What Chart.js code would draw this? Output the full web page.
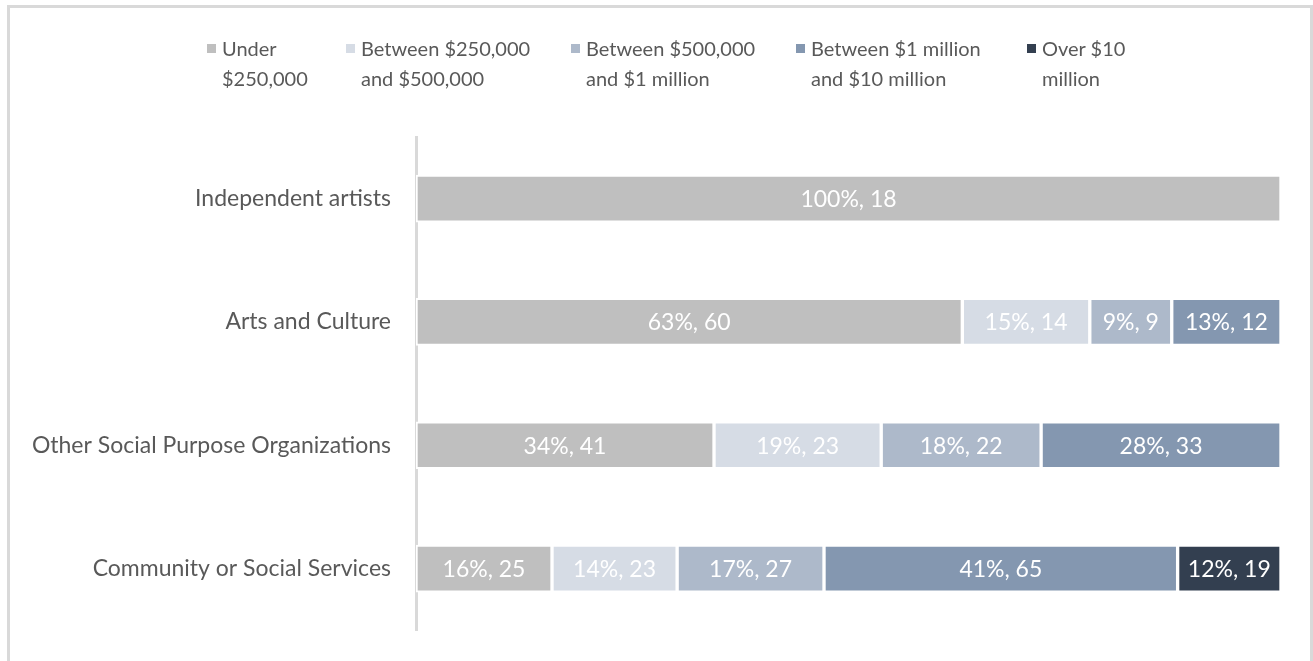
<!DOCTYPE html>
<html>
<head>
<meta charset="utf-8">
<script src="https://cdn.jsdelivr.net/npm/chart.js@4.4.1/dist/chart.umd.min.js"></script>
<style>
  html, body { margin: 0; padding: 0; background: #fff; }
  body { width: 1313px; height: 661px; position: relative; overflow: hidden; font-family: Lato, sans-serif; }
  .frame {
    position: absolute; left: 7px; top: 5px; width: 1306px; height: 700px;
    border: 3px solid #d9d9d9; box-sizing: border-box;
  }
  #revenueChart { position: absolute; left: 0; top: 0; }
  .legend { position: absolute; top: 33px; left: 0; width: 1313px; height: 70px; }
  .legend .item { position: absolute; top: 0; color: #595959; font-size: 20px; line-height: 30px; }
  .legend .box { position: absolute; width: 9px; height: 9px; top: 11px; }
  .legend .txt { position: absolute; white-space: nowrap; }
</style>
</head>
<body>
<div class="frame"></div>
<canvas id="revenueChart" width="1313" height="661"></canvas>
<div class="legend" id="legend"></div>
<script>
const categories = ['Independent artists', 'Arts and Culture', 'Other Social Purpose Organizations', 'Community or Social Services'];

// number of respondents per revenue band, one value per category
const under250k      = [18, 60, 41, 25];
const from250kTo500k = [0, 14, 23, 23];
const from500kTo1m   = [0, 9, 22, 27];
const from1mTo10m    = [0, 12, 33, 65];
const over10m        = [0, 0, 0, 19];

const bandNames = [
  ['Under', '$250,000'],
  ['Between $250,000', 'and $500,000'],
  ['Between $500,000', 'and $1 million'],
  ['Between $1 million', 'and $10 million'],
  ['Over $10', 'million']
];
const bandColors = ['#bfbfbf', '#d6dce5', '#adb9ca', '#8497b0', '#333f50'];
const bandCounts = [under250k, from250kTo500k, from500kTo1m, from1mTo10m, over10m];

const rowTotals = categories.map((c, i) => bandCounts.reduce((s, arr) => s + arr[i], 0));

const datasets = bandCounts.map((counts, b) => ({
  label: bandNames[b].join(' '),
  counts: counts,
  data: counts.map((v, i) => v / rowTotals[i] * 100),
  backgroundColor: bandColors[b],
  borderColor: '#ffffff',
  borderWidth: 2,
  borderSkipped: false,
  barThickness: 47
}));

// html legend, two lines per entry
const legendX = [207, 346, 571, 796, 1027];
const legendEl = document.getElementById('legend');
bandNames.forEach((lines, b) => {
  const item = document.createElement('div');
  item.className = 'item';
  item.style.left = legendX[b] + 'px';
  item.innerHTML = '<div class="box" style="background:' + bandColors[b] + '"></div>' +
    '<div class="txt" style="left:15px">' + lines.join('<br>') + '</div>';
  legendEl.appendChild(item);
});

const segmentLabels = {
  id: 'segmentLabels',
  afterDatasetsDraw(chart) {
    const ctx = chart.ctx;
    ctx.save();
    ctx.font = '23px Lato';
    ctx.fillStyle = '#ffffff';
    ctx.textAlign = 'center';
    ctx.textBaseline = 'middle';
    chart.data.datasets.forEach((ds, d) => {
      const meta = chart.getDatasetMeta(d);
      meta.data.forEach((bar, i) => {
        if (!ds.counts[i]) return;
        const txt = Math.round(ds.data[i]) + '%, ' + ds.counts[i];
        ctx.fillText(txt, (bar.x + bar.base) / 2, bar.y + 1);
      });
    });
    ctx.restore();
  }
};

new Chart(document.getElementById('revenueChart'), {
  type: 'bar',
  data: { labels: categories, datasets: datasets },
  plugins: [segmentLabels],
  options: {
    indexAxis: 'y',
    responsive: false,
    animation: false,
    layout: { padding: { top: 137, bottom: 26, right: 32, left: 0 } },
    plugins: {
      legend: { display: false },
      tooltip: { enabled: false }
    },
    scales: {
      x: {
        stacked: true,
        min: 0,
        max: 100,
        display: false
      },
      y: {
        stacked: true,
        grid: { display: false },
        border: { display: true, color: '#d9d9d9', width: 3 },
        ticks: {
          color: '#595959',
          font: { family: 'Lato', size: 23 },
          padding: 17
        },
        afterFit(scale) { scale.width = 416; }
      }
    }
  }
});
</script>
</body>
</html>
